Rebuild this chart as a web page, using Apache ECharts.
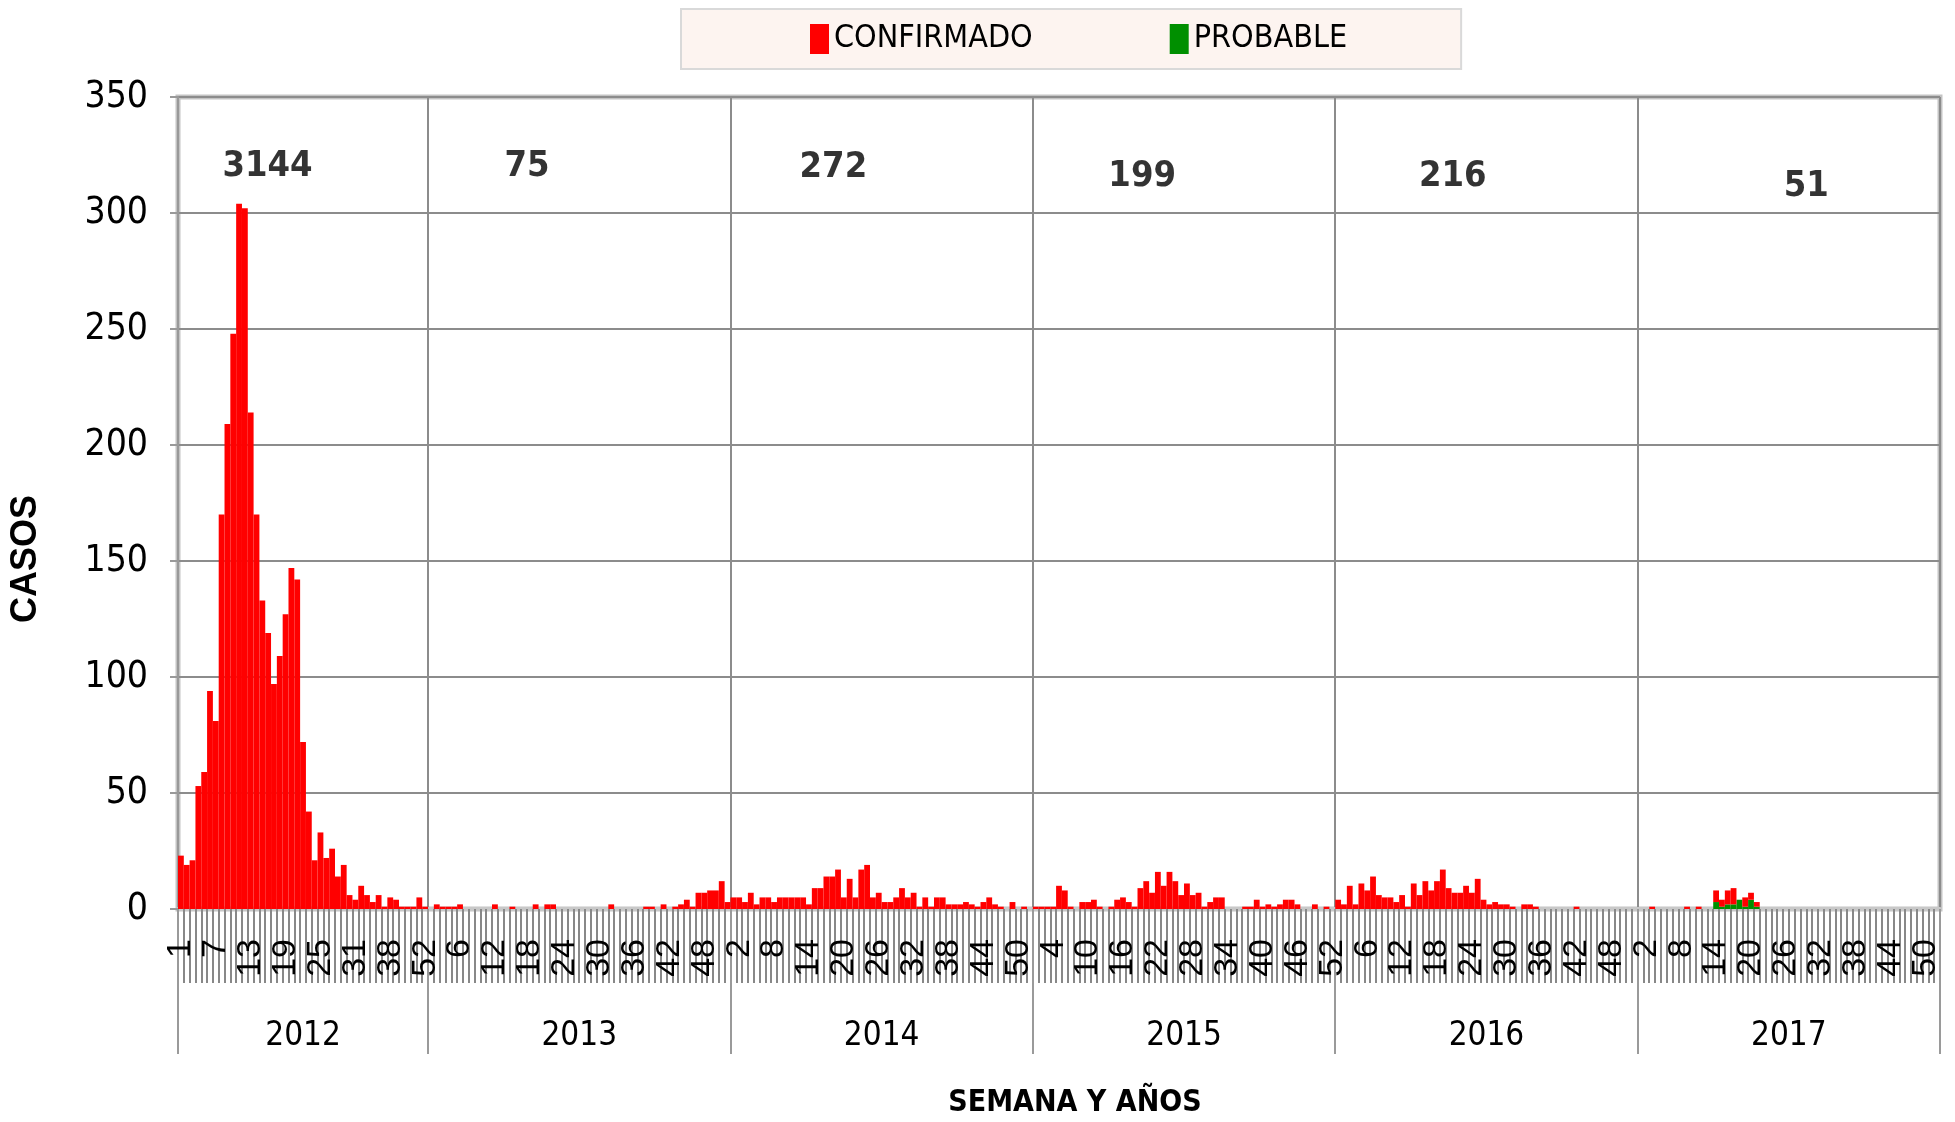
<!DOCTYPE html>
<html>
<head>
<meta charset="utf-8">
<title>Casos por semana y año</title>
<script src="https://cdn.jsdelivr.net/npm/echarts@6/dist/echarts.min.js"></script>
<style>
  html, body { margin: 0; padding: 0; background: #fff; }
  #chart { width: 1955px; height: 1122px; }
</style>
</head>
<body>
<div id="chart"></div>
<script>
// years and yearly totals shown on top of each block
var years = ['2012', '2013', '2014', '2015', '2016', '2017'];
var yearTotals = [3144, 75, 272, 199, 216, 51];

// week labels (2012 has gaps in the second half)
var weeks2012 = [1,2,3,4,5,6,7,8,9,10,11,12,13,14,15,16,17,18,19,20,21,22,23,24,25,26,27,28,29,30,31,
  32,33,34,35,36,38,39,40,41,42,43,52];
var weeks52 = [1,2,3,4,5,6,7,8,9,10,11,12,13,14,15,16,17,18,19,20,21,22,23,24,25,26,
  27,28,29,30,31,32,33,34,35,36,37,38,39,40,41,42,43,44,45,46,47,48,49,50,51,52];

// CONFIRMADO per week
var conf2012 = [23,19,21,53,59,94,81,170,209,248,304,302,214,170,133,119,97,109,127,147,142,72,42,21,33,22,26,14,19,6,
  4,10,6,3,6,1,5,4,1,1,1,5,1];
var conf2013 = [0,2,1,1,1,2,0,0,0,0, 0,2,0,0,1,0,0,0,2,0, 2,2,0,0,0,0,0,0,0,0,
  0,2,0,0,0,0,0,1,1,0, 2,0,1,2,4,1,7,7,8,8, 12,3];
var conf2014 = [5,5,3,7,2,5,5,3,5,5, 5,5,5,2,9,9,14,14,17,5, 13,5,17,19,5,7,3,3,5,9,
  5,7,1,5,1,5,5,2,2,2, 3,2,1,3,5,2,1,0,3,0, 1,0];
var conf2015 = [1,1,1,1,10,8,1,0,3,3, 4,1,0,1,4,5,3,1,9,12, 7,16,10,16,12,6,11,6,7,1,
  3,5,5,0,0,0,1,1,4,1, 2,1,2,4,4,2,0,0,2,0, 1,0];
var conf2016 = [4,2,10,2,11,8,14,6,5,5, 3,6,1,11,6,12,8,12,17,9, 7,7,10,7,13,4,2,3,2,2,
  1,0,2,2,1,0,0,0,0,0, 0,1,0,0,0,0,0,0,0,0, 0,0];
var conf2017 = [0,0,1,0,0,0,0,0,1,0, 1,0,0,5,3,6,7,0,4,3, 2,0,0,0,0,0,0,0,0,0,
  0,0,0,0,0,0,0,0,0,0, 0,0,0,0,0,0,0,0,0,0, 0,0];
// PROBABLE only appears in 2017
var prob2017 = [0,0,0,0,0,0,0,0,0,0, 0,0,0,3,1,2,2,4,1,4, 1,0,0,0,0,0,0,0,0,0,
  0,0,0,0,0,0,0,0,0,0, 0,0,0,0,0,0,0,0,0,0, 0,0];

var weekLists = [weeks2012, weeks52, weeks52, weeks52, weeks52, weeks52];
var confLists = [conf2012, conf2013, conf2014, conf2015, conf2016, conf2017];

var categories = [];
var confirmed = [];
var probable = [];
var bounds = [0];
weekLists.forEach(function (wl, y) {
  wl.forEach(function (w, i) {
    categories.push(years[y] + '-' + w);
    confirmed.push(confLists[y][i]);
    probable.push(y === 5 ? prob2017[i] : 0);
  });
  bounds.push(categories.length);
});
var mids = [];
for (var i = 0; i < years.length; i++) mids.push((bounds[i] + bounds[i + 1]) / 2);

// where the yearly totals sit (category index, y value)
var totalAnchor = [[15.4, 320], [60, 320], [112.7, 319.5], [165.8, 315.5], [219.2, 315.5], [280, 311.5]];
var totalsData = yearTotals.map(function (t, i) {
  return [totalAnchor[i][0], totalAnchor[i][1], t];
});

var narrow = "'DejaVu Sans Condensed', 'Liberation Sans', sans-serif";
var gridGray = '#8c8c8c';

var myChart = echarts.init(document.getElementById('chart'));
var option = {
  animation: false,
  backgroundColor: '#ffffff',
  legend: {
    data: ['CONFIRMADO', 'PROBABLE'],
    left: 681,
    top: 9,
    padding: [14, 114, 14, 129],
    itemGap: 137,
    itemWidth: 19,
    itemHeight: 30,
    icon: 'rect',
    backgroundColor: '#fdf4f0',
    borderColor: '#d9d9d9',
    borderWidth: 2,
    textStyle: { fontFamily: narrow, fontSize: 32, color: '#000' }
  },
  grid: {
    left: 178, right: 15, top: 97, bottom: 213,
    containLabel: false,
    outerBoundsMode: 'none',
    show: true,
    borderColor: '#c3c3c3',
    borderWidth: 5
  },
  xAxis: [
    {
      type: 'category',
      data: categories,
      axisLine: { lineStyle: { color: '#c8c8c8', width: 4 } },
      axisTick: { show: true, interval: 0, length: 74, lineStyle: { color: '#888888', width: 2 } },
      axisLabel: {
        interval: 5,
        rotate: 90,
        margin: 30,
        fontFamily: 'Liberation Sans',
        fontSize: 34,
        color: '#000',
        formatter: function (v) { return v.split('-')[1]; }
      },
      splitLine: { show: false },
      name: 'SEMANA Y AÑOS',
      nameLocation: 'middle',
      nameGap: 179,
      nameTextStyle: {
        fontFamily: narrow, fontWeight: 'bold', fontSize: 30, color: '#000',
        padding: [0, 0, 0, 32]
      }
    },
    {
      type: 'value',
      min: 0,
      max: categories.length,
      position: 'bottom',
      axisLine: { show: false },
      axisTick: { show: true, customValues: bounds, length: 145, lineStyle: { color: '#9a9a9a', width: 2 } },
      axisLabel: {
        show: true,
        customValues: mids,
        margin: 111,
        fontFamily: narrow,
        fontSize: 33,
        color: '#000',
        formatter: function (v) {
          var k = mids.indexOf(v);
          return k >= 0 ? years[k] : '';
        }
      },
      splitLine: { show: true, lineStyle: { color: gridGray, width: 2 } }
    }
  ],
  yAxis: {
    type: 'value',
    min: 0,
    max: 350,
    interval: 50,
    axisLine: { show: true, lineStyle: { color: '#999', width: 2 } },
    axisTick: { show: true, length: 8, lineStyle: { color: '#999', width: 2 } },
    axisLabel: { margin: 30, fontFamily: narrow, fontSize: 37, color: '#000' },
    splitLine: { lineStyle: { color: gridGray, width: 2 } },
    name: 'CASOS',
    nameLocation: 'middle',
    nameRotate: 90,
    nameGap: 134,
    nameTextStyle: {
      fontFamily: 'Liberation Sans', fontWeight: 'bold', fontSize: 36, color: '#000',
      padding: [0, 112, 0, 0]
    }
  },
  series: [
    {
      name: 'PROBABLE',
      type: 'bar',
      stack: 'casos',
      data: probable,
      barCategoryGap: '0%',
      itemStyle: { color: '#008f00' }
    },
    {
      name: 'CONFIRMADO',
      type: 'bar',
      stack: 'casos',
      data: confirmed,
      barCategoryGap: '0%',
      itemStyle: { color: '#ff0000' }
    },
    {
      type: 'scatter',
      xAxisIndex: 1,
      data: totalsData,
      symbolSize: 1,
      silent: true,
      itemStyle: { color: 'rgba(0,0,0,0)' },
      label: {
        show: true,
        position: 'inside',
        fontFamily: narrow,
        fontWeight: 'bold',
        fontSize: 36,
        color: '#000',
        formatter: function (p) { return p.value[2]; }
      }
    }
  ]
};
option && myChart.setOption(option);
</script>
</body>
</html>
